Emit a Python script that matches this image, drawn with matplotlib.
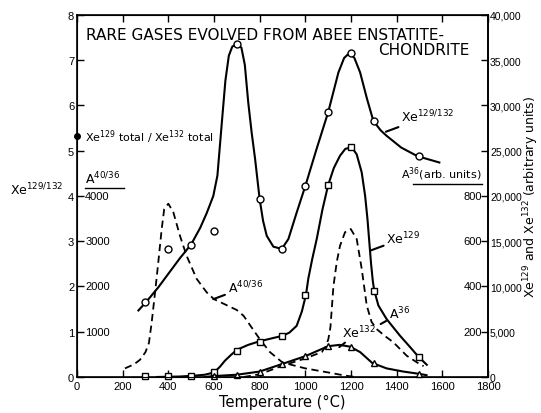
import matplotlib
matplotlib.use("Agg")
import matplotlib.pyplot as plt
import matplotlib.transforms as mtransforms

# scale factors between left axis (0-8) and the other scales
XE_PER_UNIT = 5000      # Xe129 / Xe132 arbitrary units
A36_PER_UNIT = 200      # A36 arbitrary units
A4036_PER_UNIT = 1000   # A40/A36 ratio

# Xe129/Xe132 ratio - measured points
ratio_pts_t = [300, 400, 500, 600, 700, 800, 900, 1000, 1100, 1200, 1300, 1500]
ratio_pts = [1.65, 2.83, 2.92, 3.23, 7.35, 3.93, 2.83, 4.22, 5.85, 7.15, 5.66, 4.88]
# ratio - drawn curve
ratio_t = [269, 300, 356, 400, 450, 500, 540, 568, 597, 615, 634, 650, 665, 680, 700, 720, 735,
           750, 765, 780, 800, 815, 831, 860, 897, 926, 960, 1000, 1050, 1100, 1145, 1170, 1193,
           1215, 1240, 1270, 1298, 1330, 1356, 1420, 1491, 1587]
ratio_c = [1.47, 1.64, 1.98, 2.28, 2.62, 2.93, 3.3, 3.62, 4.0, 4.45, 5.6, 6.55, 7.1, 7.3, 7.36, 7.28, 6.9,
           6.07, 5.4, 4.82, 3.93, 3.45, 3.12, 2.88, 2.83, 3.05, 3.6, 4.22, 5.05, 5.85, 6.73, 7.05, 7.16,
           7.05, 6.73, 6.15, 5.66, 5.45, 5.33, 5.07, 4.88, 4.74]
xe_total_ratio = 5.32

# Xe129 (arbitrary units)
xe129_pts_t = [300, 400, 500, 600, 700, 800, 900, 1000, 1100, 1200, 1300, 1500]
xe129_pts = [150, 150, 150, 500, 2900, 3900, 4550, 9100, 21200, 25400, 9550, 2250]
xe129_t = [350, 450, 517, 560, 600, 625, 648, 675, 700, 750, 800, 850, 900, 930, 962, 985, 1003,
           1013, 1030, 1050, 1075, 1100, 1125, 1152, 1175, 1203, 1225, 1247, 1262, 1272, 1280, 1288,
           1296, 1302, 1320, 1356, 1415, 1459, 1495, 1532]
xe129_c = [0, 50, 150, 250, 500, 1100, 1800, 2450, 3000, 3550, 3950, 4250, 4550, 4900, 5650, 7250, 9100,
           10850, 13000, 15250, 18500, 21200, 23100, 24450, 25200, 25400, 24600, 22600, 20000, 17500, 15000, 12500,
           10500, 9550, 7900, 6400, 4550, 3300, 2250, 1350]

# Xe132 (arbitrary units)
xe132_pts_t = [600, 700, 800, 900, 1000, 1100, 1200, 1300, 1500]
xe132_pts = [100, 250, 600, 1450, 2300, 3400, 3350, 1550, 350]
xe132_t = [560, 600, 700, 800, 900, 1000, 1100, 1150, 1196, 1240, 1293, 1356, 1429, 1498, 1531]
xe132_c = [0, 100, 250, 600, 1450, 2300, 3400, 3550, 3350, 2750, 1550, 950, 600, 350, 200]

# A36 (arb. units)
a36_t = [730, 800, 900, 1000, 1072, 1090, 1101, 1110, 1123, 1138, 1152, 1174, 1199, 1225, 1247, 1269,
         1290, 1312, 1350, 1385, 1444, 1502, 1518]
a36_c = [0, 12, 50, 82, 110, 136, 168, 220, 400, 510, 580, 640, 654, 610, 478, 316,
         244, 212, 180, 154, 94, 56, 48]

# A40/A36
a4036_t = [210, 250, 276, 300, 315, 327, 342, 356, 371, 382, 400, 422, 451, 480, 524, 568, 600, 650,
           700, 730, 760, 800, 845, 900, 1000, 1100, 1175, 1220]
a4036_c = [190, 280, 380, 550, 750, 1200, 1870, 2530, 3270, 3710, 3830, 3640, 3120, 2680, 2170, 1870, 1720, 1600,
           1480, 1350, 1130, 840, 550, 320, 190, 100, 30, 0]

xticks = [0, 200, 400, 600, 800, 1000, 1200, 1400, 1600, 1800]
left_ticks = [0, 1, 2, 3, 4, 5, 6, 7, 8]
a4036_ticks = [1000, 2000, 3000, 4000]
a36_ticks = [200, 400, 600, 800]
xe_ticks = [0, 5000, 10000, 15000, 20000, 25000, 30000, 35000, 40000]

narrow = ['Liberation Sans', 'DejaVu Sans']
plt.rcParams['font.family'] = ['DejaVu Sans']
fig, ax = plt.subplots(figsize=(5.41, 4.14), dpi=100)
fig.subplots_adjust(left=0.1423, right=0.902, bottom=0.087, top=0.9614)

lw = 1.5
dash = (0, (4, 2.5))
ax.plot(ratio_t, ratio_c, color='k', lw=lw)
ax.plot(ratio_pts_t, ratio_pts, 'o', mfc='white', mec='k', ms=5, mew=1.0, zorder=5)

ax.plot(xe129_t, [v / XE_PER_UNIT for v in xe129_c], color='k', lw=lw)
ax.plot(xe129_pts_t, [v / XE_PER_UNIT for v in xe129_pts], 's', mfc='white', mec='k', ms=4.5, mew=1.0,
        zorder=5, clip_on=False)

ax.plot(xe132_t, [v / XE_PER_UNIT for v in xe132_c], color='k', lw=lw)
ax.plot(xe132_pts_t, [v / XE_PER_UNIT for v in xe132_pts], '^', mfc='white', mec='k', ms=5, mew=1.0,
        zorder=5, clip_on=False)

ax.plot(a36_t, [v / A36_PER_UNIT for v in a36_c], color='k', lw=1.3, linestyle=dash)
ax.plot(a4036_t, [v / A4036_PER_UNIT for v in a4036_c], color='k', lw=1.3, linestyle=dash)

ax.plot([0], [xe_total_ratio], 'o', color='k', ms=4, clip_on=False, zorder=6)

ax.set_xlim(0, 1800)
ax.set_ylim(0, 8)
ax.set_xticks(xticks)
ax.set_yticks(left_ticks)
ax.tick_params(axis='x', direction='in', top=True, length=5, width=1, labelsize=8, pad=3)
ax.tick_params(axis='y', direction='in', right=False, length=5, width=1, labelsize=8, pad=2)
for lab in ax.get_xticklabels() + ax.get_yticklabels():
    lab.set_family(narrow)
for s in ax.spines.values():
    s.set_linewidth(1.2)
ax.set_xlabel('Temperature (°C)', fontsize=10.5, labelpad=2)

ax2 = ax.twinx()
ax2.set_ylim(0, 40000)
ax2.set_yticks(xe_ticks)
ax2.set_yticklabels(['{:,}'.format(v) for v in xe_ticks], family=narrow)
ax2.tick_params(axis='y', direction='in', length=5, width=1, labelsize=7.5, pad=1.5)
ax2.spines['right'].set_linewidth(1.2)
fig.text(0.982, 1 - 197 / 414, 'Xe$^{129}$ and Xe$^{132}$ (arbitrary units)', rotation=90,
         ha='center', va='center', fontsize=9)

blend = mtransforms.blended_transform_factory(ax.transAxes, ax.transData)
for v in a4036_ticks:
    ax.text(0.02, v / A4036_PER_UNIT, str(v), transform=blend, ha='left', va='center',
            fontsize=8, family=narrow)
for v in a36_ticks:
    ax.text(0.985, v / A36_PER_UNIT, str(v), transform=blend, ha='right', va='center',
            fontsize=8, family=narrow)

# axis headers inside the frame
ax.text(0.02, 4.22, 'A$^{40/36}$', transform=blend, ha='left', va='bottom', fontsize=9)
ax.plot([0.02, 0.115], [4.18, 4.18], transform=blend, color='k', lw=1)
ax.text(0.985, 4.3, 'A$^{36}$(arb. units)', transform=blend, ha='right', va='bottom', fontsize=8)
ax.plot([0.818, 0.985], [4.27, 4.27], transform=blend, color='k', lw=1)
ax.text(0.02, xe_total_ratio, 'Xe$^{129}$ total / Xe$^{132}$ total', transform=blend,
        ha='left', va='center', fontsize=8)

fig.text(0.018, 1 - 190 / 414, 'Xe$^{129/132}$', ha='left', va='center', fontsize=9)

# title
ax.text(0.022, 0.945, 'RARE GASES EVOLVED FROM ABEE ENSTATITE-', transform=ax.transAxes,
        ha='left', va='center', fontsize=11)
ax.text(0.955, 0.906, 'CHONDRITE', transform=ax.transAxes, ha='right', va='center', fontsize=11)

# curve labels with leader lines
lead = dict(arrowstyle='-', lw=1.5, color='k', shrinkA=0, shrinkB=0)
ax.annotate('Xe$^{129/132}$', xy=(1353, 5.42), xytext=(1420, 5.58), fontsize=9,
            ha='left', va='bottom', arrowprops=lead)
ax.annotate('Xe$^{129}$', xy=(1283, 2.79), xytext=(1355, 2.88), fontsize=9,
            ha='left', va='bottom', arrowprops=lead)
ax.annotate('A$^{36}$', xy=(1330, 1.17), xytext=(1366, 1.22), fontsize=9,
            ha='left', va='bottom', arrowprops=lead)
ax.annotate('Xe$^{132}$', xy=(1149, 0.66), xytext=(1160, 0.82), fontsize=9,
            ha='left', va='bottom', arrowprops=lead)
ax.annotate('A$^{40/36}$', xy=(597, 1.72), xytext=(660, 1.8), fontsize=9,
            ha='left', va='bottom', arrowprops=lead)

fig.savefig('out.png', dpi=100)
